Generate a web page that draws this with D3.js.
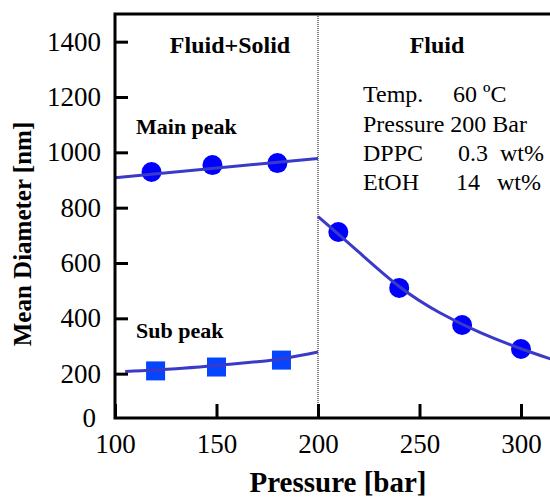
<!DOCTYPE html>
<html>
    <head>
        <style>
            body {
                margin: 0;
                background: #fff;
            }
            svg text {
                font-family: "Liberation Serif", "Times New Roman", serif;
                fill: #000;
            }
            .axis path.domain {
                display: none;
            }
            .axis line {
                stroke: #000;
                stroke-width: 3px;
            }
            .axis text {
                font-size: 27px;
            }
            .fit {
                fill: none;
                stroke: #3a3ac8;
                stroke-width: 3px;
            }
        </style>
    </head>
    <body>
        <script src="https://cdn.jsdelivr.net/npm/d3@7"></script>
        <script>
            // measured points
            const mainPressure = [118, 148, 180];
            const mainDiameter = [929, 954, 961];
            const subPressure = [120, 150, 182];
            const subDiameter = [210, 224, 249];
            const fluidPressure = [210, 240, 271, 300];
            const fluidDiameter = [712, 510, 376, 289];

            // fitted curves
            const mainFitP = [100, 200];
            const mainFitD = [908, 978];
            const subFitP = [105, 130, 150, 170, 185, 200];
            const subFitD = [208, 218, 230, 243, 257, 278];
            const fluidFitP = [200, 220, 240, 260, 280, 300, 320];
            const fluidFitD = [768, 640, 515, 420, 348, 290, 240];

            const xTicks = [100, 150, 200, 250, 300];
            const yTicks = [200, 400, 600, 800, 1000, 1200, 1400];
            const infoLabels = ['Temp.', 'Pressure', 'DPPC', 'EtOH'];
            const infoValues = ['60', '200', '0.3', '14'];
            const infoUnits = ['\u00baC', 'Bar', 'wt%', 'wt%'];

            const width = 550, height = 497;
            const plotLeft = 115, plotTop = 14, plotBottom = 418;
            const boundary = 200;

            const x = d3.scaleLinear().domain([100, 300]).range([plotLeft, 521]);
            const y = d3.scaleLinear().domain([0, 1500]).range([429, plotTop]);

            const svg = d3.select('body').append('svg')
                .attr('width', width)
                .attr('height', height);

            svg.append('clipPath').attr('id', 'plot')
                .append('rect')
                .attr('x', plotLeft).attr('y', plotTop)
                .attr('width', width - plotLeft).attr('height', plotBottom - plotTop);

            const zip = (a, b) => a.map((v, i) => [v, b[i]]);

            // phase boundary
            svg.append('line')
                .attr('x1', x(boundary)).attr('x2', x(boundary))
                .attr('y1', plotTop).attr('y2', plotBottom)
                .attr('stroke', '#000')
                .attr('stroke-width', 1)
                .attr('stroke-dasharray', '1,1');

            const plot = svg.append('g').attr('clip-path', 'url(#plot)');

            plot.selectAll('circle.main')
                .data(zip(mainPressure, mainDiameter).concat(zip(fluidPressure, fluidDiameter)))
                .enter().append('circle')
                .attr('class', 'main')
                .attr('cx', d => x(d[0]))
                .attr('cy', d => y(d[1]))
                .attr('r', 10)
                .attr('fill', '#0000ff');

            plot.selectAll('rect.sub')
                .data(zip(subPressure, subDiameter))
                .enter().append('rect')
                .attr('class', 'sub')
                .attr('x', d => x(d[0]) - 9.5)
                .attr('y', d => y(d[1]) - 9.5)
                .attr('width', 19)
                .attr('height', 19)
                .attr('fill', '#0645ff');

            const line = d3.line()
                .x(d => x(d[0]))
                .y(d => y(d[1]))
                .curve(d3.curveNatural);

            [zip(mainFitP, mainFitD), zip(subFitP, subFitD), zip(fluidFitP, fluidFitD)]
                .forEach(pts => {
                    plot.append('path').attr('class', 'fit').attr('d', line(pts));
                });

            // axes
            svg.append('g')
                .attr('class', 'axis')
                .attr('transform', `translate(${plotLeft},0)`)
                .call(d3.axisLeft(y).tickValues(yTicks).tickFormat(d3.format('d'))
                    .tickSize(-13).tickPadding(14));

            svg.append('g')
                .attr('class', 'axis')
                .attr('transform', `translate(0,${plotBottom})`)
                .call(d3.axisBottom(x).tickValues(xTicks).tickFormat(d3.format('d'))
                    .tickSize(-14).tickPadding(16));

            svg.append('text')
                .attr('x', 96).attr('y', plotBottom)
                .attr('dy', '0.34em')
                .attr('text-anchor', 'end')
                .style('font-size', '27px')
                .text('0');

            // frame
            svg.append('path')
                .attr('d', `M${plotLeft},${plotBottom}V${plotTop}H${width}M${plotLeft - 1.5},${plotBottom}H${width}`)
                .attr('fill', 'none')
                .attr('stroke', '#000')
                .attr('stroke-width', 3);

            // axis titles
            svg.append('text')
                .attr('x', 338).attr('y', 492)
                .attr('text-anchor', 'middle')
                .style('font-size', '29px')
                .style('font-weight', 'bold')
                .text('Pressure [bar]');

            svg.append('text')
                .attr('transform', 'translate(31,234) rotate(-90)')
                .attr('text-anchor', 'middle')
                .style('font-size', '25px')
                .style('font-weight', 'bold')
                .text('Mean Diameter [nm]');

            // region and series labels
            const bold = (tx, ty, size, s, anchor) => svg.append('text')
                .attr('x', tx).attr('y', ty)
                .attr('text-anchor', anchor)
                .style('font-size', size + 'px')
                .style('font-weight', 'bold')
                .text(s);

            bold(230, 53, 24, 'Fluid+Solid', 'middle');
            bold(437, 53, 24, 'Fluid', 'middle');
            bold(136, 134, 22, 'Main peak', 'start');
            bold(136, 338, 22, 'Sub peak', 'start');

            // conditions
            const rowY = [102, 131.5, 161, 190];
            const valueX = [453, null, 458, 456];
            const unitX = [483, null, 500, 497];
            const info = svg.append('g').style('font-size', '24px');
            infoLabels.forEach((s, i) => {
                const t = info.append('text').attr('y', rowY[i]).attr('x', 363);
                if (valueX[i] === null) {
                    t.text(`${s} ${infoValues[i]} ${infoUnits[i]}`);
                    return;
                }
                t.append('tspan').text(s);
                t.append('tspan').attr('x', valueX[i]).text(infoValues[i]);
                t.append('tspan').attr('x', unitX[i]).text(infoUnits[i]);
            });
        </script>
    </body>
</html>
